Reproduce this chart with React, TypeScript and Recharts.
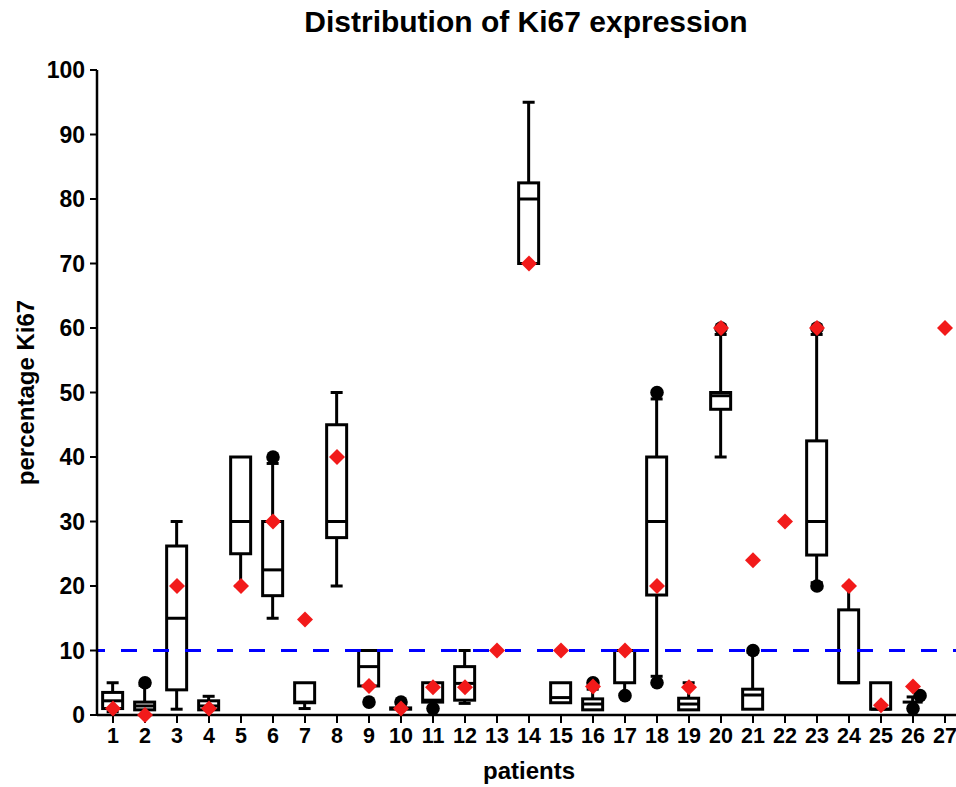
import React from "react";
import {
  ComposedChart,
  Bar,
  Scatter,
  XAxis,
  YAxis,
  ReferenceLine,
} from "recharts";

// ---- data ----
const patients = [1, 2, 3, 4, 5, 6, 7, 8, 9, 10, 11, 12, 13, 14, 15, 16, 17, 18, 19, 20, 21, 22, 23, 24, 25, 26, 27];
const whiskerLow = [0.5, 0.8, 0.9, 0.8, 20, 15, 1, 20, 4.5, 0.9, 2, 1.8, null, 70, 1.9, 0.8, 3.2, 6, 0.8, 40, 0.9, null, 20.5, 5, 0.9, 2, null];
const q1 = [1, 0.8, 3.9, 0.8, 25, 18.5, 1.9, 27.5, 4.5, 0.9, 2, 2.3, null, 70, 1.9, 0.8, 5, 18.6, 0.8, 47.4, 0.9, null, 24.8, 5, 0.9, 2, null];
const median = [2.2, 1.4, 15, 1.4, 30, 22.5, 2, 30, 7.5, 1, 2.3, 4.9, null, 80, 2.7, 1.7, 10, 30, 1.7, 49.5, 3.1, null, 30, 5, 0.9, 2, null];
const q3 = [3.5, 2, 26.2, 2.2, 40, 30, 5, 45, 10, 1.1, 5, 7.5, null, 82.5, 5, 2.5, 10, 40, 2.6, 50, 4, null, 42.5, 16.3, 5, 2, null];
const whiskerHigh = [5, 4.6, 30, 2.9, 40, 39, 5, 50, 10, 1.1, 5, 10, null, 95, 5, 4, 10, 49, 5, 59, 9.7, null, 59, 20, 5, 2.8, null];
const markerValues = [1, 0, 20, 1, 20, 30, 14.8, 40, 4.5, 1, 4.3, 4.3, 10, 70, 10, 4.4, 10, 20, 4.3, 60, 24, 30, 60, 20, 1.5, 4.4, 60];
const outlierPatients = [2, 6, 9, 10, 11, 16, 17, 18, 18, 20, 21, 23, 23, 26.22, 26];
const outlierValues = [5, 40, 2, 2, 1, 5, 3, 50, 5, 60, 10, 60, 20, 3, 1];
const yTicks = [0, 10, 20, 30, 40, 50, 60, 70, 80, 90, 100];
const threshold = 10;

// ---- tables built from the arrays ----
const boxRows = patients
  .map((p, i) => ({
    patient: p,
    low: whiskerLow[i],
    q1: q1[i],
    median: median[i],
    q3: q3[i],
    high: whiskerHigh[i],
    range: [whiskerLow[i], whiskerHigh[i]],
  }))
  .filter((r) => r.low != null);

const markerRows = patients.map((p, i) => ({ patient: p, value: markerValues[i] }));
const outlierRows = outlierPatients.map((p, i) => ({ patient: p, value: outlierValues[i] }));

const FONT = "'Liberation Sans', Arial, Helvetica, sans-serif";
const RED = "#f21a1a";
const BOX_HALF = 10;

function BoxShape(props: any) {
  const { x, y, width, height, payload } = props;
  if (!payload || x == null || y == null) return null;
  const top = Math.min(y, y + height);
  const bottom = Math.max(y, y + height);
  const lo = payload.low;
  const hi = payload.high;
  const span = hi - lo;
  const py = (v: number) => (span === 0 ? bottom : bottom - ((v - lo) / span) * (bottom - top));
  const cx = x + width / 2;
  const capHalf = 6;
  const sw = 3;
  const yHi = py(hi);
  const yQ3 = py(payload.q3);
  const yQ1 = py(payload.q1);
  const yLo = py(lo);
  const yMed = py(payload.median);
  return (
    <g>
      {hi > payload.q3 && (
        <g>
          <line x1={cx} x2={cx} y1={yHi} y2={yQ3} stroke="#000" strokeWidth={sw} />
          <line x1={cx - capHalf} x2={cx + capHalf} y1={yHi} y2={yHi} stroke="#000" strokeWidth={sw} />
        </g>
      )}
      {lo < payload.q1 && (
        <g>
          <line x1={cx} x2={cx} y1={yQ1} y2={yLo} stroke="#000" strokeWidth={sw} />
          <line x1={cx - capHalf} x2={cx + capHalf} y1={yLo} y2={yLo} stroke="#000" strokeWidth={sw} />
        </g>
      )}
      <rect
        x={cx - BOX_HALF}
        y={yQ3}
        width={BOX_HALF * 2}
        height={Math.max(0, yQ1 - yQ3)}
        fill="#fff"
        stroke="#000"
        strokeWidth={sw}
      />
      <line x1={cx - BOX_HALF} x2={cx + BOX_HALF} y1={yMed} y2={yMed} stroke="#000" strokeWidth={sw} />
    </g>
  );
}

function Diamond(props: any) {
  const { cx, cy } = props;
  if (cx == null || cy == null) return null;
  const r = 8;
  return <polygon points={`${cx},${cy - r} ${cx + r},${cy} ${cx},${cy + r} ${cx - r},${cy}`} fill={RED} />;
}

function Dot(props: any) {
  const { cx, cy } = props;
  if (cx == null || cy == null) return null;
  return <circle cx={cx} cy={cy} r={6.8} fill="#000" />;
}

export default function App() {
  const tickStyle = { fill: "#000", fontSize: 23, fontWeight: "bold" as const, fontFamily: FONT };
  return (
    <div
      style={{
        position: "absolute",
        left: 0,
        top: 0,
        width: 956,
        height: 787,
        overflow: "hidden",
        background: "#fff",
        fontFamily: FONT,
      }}
    >
      <div
        style={{
          position: "absolute",
          left: 0,
          width: 1052,
          top: 4,
          textAlign: "center",
          fontSize: 30,
          fontWeight: "bold",
          lineHeight: "36px",
          color: "#000",
        }}
      >
        Distribution of Ki67 expression
      </div>
      <ComposedChart
        width={970}
        height={787}
        data={boxRows}
        margin={{ top: 70, right: 9, bottom: 0, left: 0 }}
        style={{ fontFamily: FONT }}
      >
        <XAxis
          dataKey="patient"
          type="number"
          domain={[0.5, 27.5]}
          ticks={patients}
          interval={0}
          height={72}
          tickSize={8}
          tickMargin={5}
          axisLine={{ stroke: "#000", strokeWidth: 2.5 }}
          tickLine={{ stroke: "#000", strokeWidth: 2 }}
          tick={{ ...tickStyle, fontSize: 21.5 }}
          allowDataOverflow
          label={{
            value: "patients",
            position: "insideBottom",
            offset: 8,
            style: { fill: "#000", fontSize: 24, fontWeight: "bold", fontFamily: FONT },
          }}
        />
        <YAxis
          type="number"
          domain={[0, 100]}
          ticks={yTicks}
          interval={0}
          width={97}
          tickSize={7}
          tickMargin={5}
          axisLine={{ stroke: "#000", strokeWidth: 2.5 }}
          tickLine={{ stroke: "#000", strokeWidth: 2 }}
          tick={tickStyle}
          label={{
            value: "percentage Ki67",
            angle: -90,
            position: "insideLeft",
            offset: 25,
            style: { textAnchor: "middle", fill: "#000", fontSize: 24, fontWeight: "bold", fontFamily: FONT },
          }}
        />
        <ReferenceLine
          y={threshold}
          stroke="#0000ff"
          strokeWidth={3}
          strokeDasharray="16 16"
          strokeDashoffset={8}
        />
        <Bar dataKey="range" barSize={19} shape={BoxShape} isAnimationActive={false} />
        <Scatter data={outlierRows} dataKey="value" shape={Dot} isAnimationActive={false} />
        <Scatter data={markerRows} dataKey="value" shape={Diamond} isAnimationActive={false} />
      </ComposedChart>
    </div>
  );
}
